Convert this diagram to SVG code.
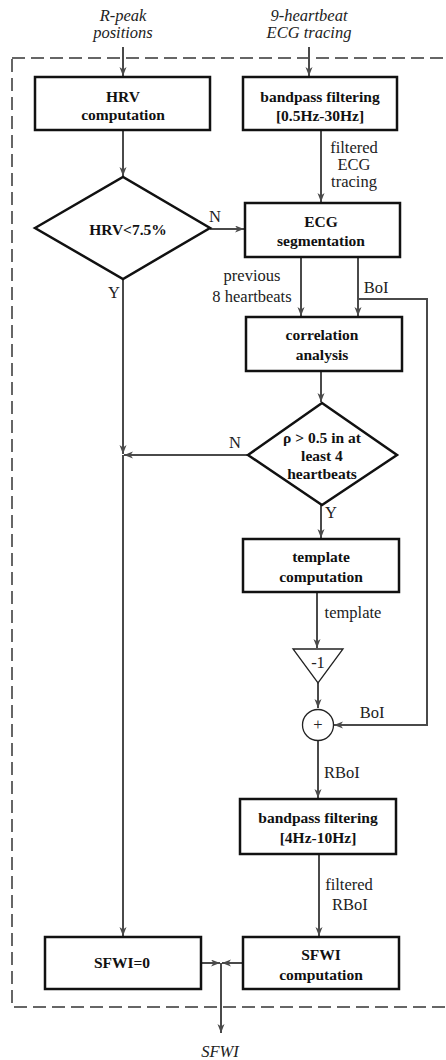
<svg xmlns="http://www.w3.org/2000/svg" width="446" height="1060" viewBox="0 0 446 1060">
<style>
.bx{fill:#fff;stroke:#111;stroke-width:2.5}
.cn{fill:none;stroke:#4a4a4a;stroke-width:2}
.bt{font-family:"Liberation Serif",serif;font-weight:bold;font-size:15.5px;fill:#111;text-anchor:middle}
.lb{font-family:"Liberation Serif",serif;font-size:16.5px;fill:#222;text-anchor:middle}
.it{font-family:"Liberation Serif",serif;font-style:italic;font-size:16.5px;fill:#222;text-anchor:middle}
.th{fill:#fff;stroke:#222;stroke-width:1.3}
</style>
<defs>
<marker id="ar" markerWidth="10" markerHeight="8" refX="9" refY="3.5" orient="auto" markerUnits="userSpaceOnUse">
<path d="M0,0 L9,3.5 L0,7 L2.5,3.5 z" fill="#4a4a4a"/>
</marker>
</defs>
<rect x="12" y="58" width="445" height="949" fill="none" stroke="#666" stroke-width="2" stroke-dasharray="13 6"/>
<g id="connectors">
<path class="cn" d="M123,47 V76" marker-end="url(#ar)"/>
<path class="cn" d="M309,47 V76" marker-end="url(#ar)"/>
<path class="cn" d="M123,130 V176" marker-end="url(#ar)"/>
<path class="cn" d="M321,130 V202" marker-end="url(#ar)"/>
<path class="cn" d="M210,229 H244" marker-end="url(#ar)"/>
<path class="cn" d="M123,279 V454" marker-end="url(#ar)"/>
<path class="cn" d="M123,455 V936" marker-end="url(#ar)"/>
<path class="cn" d="M301,257 V316" marker-end="url(#ar)"/>
<path class="cn" d="M358,257 V316" marker-end="url(#ar)"/>
<path class="cn" d="M358,299 H427 V725 H334" marker-end="url(#ar)"/>
<path class="cn" d="M321,371 V402" marker-end="url(#ar)"/>
<path class="cn" d="M248,455 H124" marker-end="url(#ar)"/>
<path class="cn" d="M321,505 V538" marker-end="url(#ar)"/>
<path class="cn" d="M317,592 V648" marker-end="url(#ar)"/>
<path class="cn" d="M318,683 V708" marker-end="url(#ar)"/>
<path class="cn" d="M318,741 V798" marker-end="url(#ar)"/>
<path class="cn" d="M319,854 V936" marker-end="url(#ar)"/>
<path class="cn" d="M201,963 H220" marker-end="url(#ar)"/>
<path class="cn" d="M243,963 H222" marker-end="url(#ar)"/>
<path class="cn" d="M221,963 V1033" marker-end="url(#ar)"/>
</g>
<g id="in-rpeak"><text class="it" x="123" y="21">R-peak</text><text class="it" x="123" y="38">positions</text></g>
<g id="in-ecg"><text class="it" x="309" y="21">9-heartbeat</text><text class="it" x="309" y="38">ECG tracing</text></g>
<g id="hrv"><rect class="bx" x="35" y="77" width="175" height="53"/><text class="bt" x="123" y="102">HRV</text><text class="bt" x="123" y="120">computation</text></g>
<g id="bp1"><rect class="bx" x="243" y="77" width="154" height="53"/><text class="bt" x="320" y="102">bandpass filtering</text><text class="bt" x="320" y="121">[0.5Hz-30Hz]</text></g>
<g id="lbl-fecg"><text class="lb" x="354" y="153">filtered</text><text class="lb" x="354" y="170">ECG</text><text class="lb" x="354" y="187">tracing</text></g>
<g id="d1"><polygon class="bx" points="35,228 123,177 210,228 123,279"/><text class="bt" x="128" y="235">HRV&lt;7.5%</text></g>
<text class="lb" x="215" y="222">N</text>
<text class="lb" x="114" y="298">Y</text>
<g id="seg"><rect class="bx" x="245" y="203" width="155" height="54"/><text class="bt" x="321" y="227">ECG</text><text class="bt" x="321" y="246">segmentation</text></g>
<g id="lbl-prev"><text class="lb" x="252" y="281">previous</text><text class="lb" x="252" y="302">8 heartbeats</text></g>
<text class="lb" x="376" y="293">BoI</text>
<g id="corr"><rect class="bx" x="246" y="317" width="156" height="54"/><text class="bt" x="322" y="340">correlation</text><text class="bt" x="322" y="360">analysis</text></g>
<g id="d2"><polygon class="bx" points="248,455 322,403 397,455 322,505"/><text class="bt" x="322" y="443">ρ &gt; 0.5 in at</text><text class="bt" x="322" y="461">least 4</text><text class="bt" x="322" y="479">heartbeats</text></g>
<text class="lb" x="235" y="448">N</text>
<text class="lb" x="331" y="518">Y</text>
<g id="tmpl"><rect class="bx" x="243" y="539" width="156" height="53"/><text class="bt" x="321" y="562">template</text><text class="bt" x="321" y="582">computation</text></g>
<text class="lb" x="353" y="618">template</text>
<g id="neg"><polygon class="th" points="293,649 343,649 318,683"/><text class="lb" x="318" y="668">-1</text></g>
<g id="sum"><circle class="th" cx="318" cy="725" r="15.5"/><text class="lb" x="318" y="730">+</text></g>
<text class="lb" x="372" y="718">BoI</text>
<text class="lb" x="342" y="778">RBoI</text>
<g id="bp2"><rect class="bx" x="240" y="799" width="156" height="55"/><text class="bt" x="318" y="823">bandpass filtering</text><text class="bt" x="318" y="843">[4Hz-10Hz]</text></g>
<g id="lbl-frboi"><text class="lb" x="349" y="890">filtered</text><text class="lb" x="350" y="910">RBoI</text></g>
<g id="sfwi0"><rect class="bx" x="45" y="937" width="156" height="52"/><text class="bt" x="122" y="968">SFWI=0</text></g>
<g id="sfwic"><rect class="bx" x="243" y="937" width="156" height="52"/><text class="bt" x="321" y="960">SFWI</text><text class="bt" x="321" y="980">computation</text></g>
<g id="out"><text class="it" x="220" y="1057">SFWI</text></g>
</svg>
